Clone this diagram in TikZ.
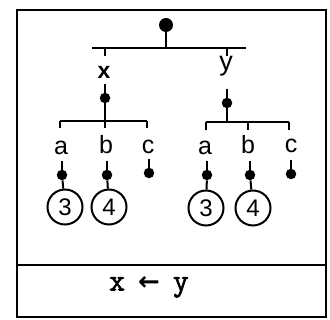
\documentclass[tikz,border=0pt]{standalone}
\usepackage{fontspec}
\setsansfont{Liberation Sans}
\newfontfamily\exprfont[FakeBold=2]{Latin Modern Mono}
\newfontfamily\arrfont{DejaVu Sans}
\begin{document}
\begin{tikzpicture}[x=1pt,y=-1pt,
  ln/.style={line width=2pt},
  dotn/.style={circle,fill=black,inner sep=0pt,minimum size=10.5pt},
  bigdot/.style={circle,fill=black,inner sep=0pt,minimum size=14pt},
  lbl/.style={font=\sffamily\fontsize{25}{25}\selectfont,inner sep=0pt},
  num/.style={circle,draw,line width=2pt,minimum size=35pt,inner sep=0pt,font=\sffamily\fontsize{24}{24}\selectfont}]
\useasboundingbox (0,0) rectangle (330,320);
% frame
\draw[line width=2pt] (17,10) rectangle (326,317);
\draw[line width=2pt] (17,265) -- (326,265);
\node[font=\exprfont\fontsize{31}{31}\selectfont,inner sep=0pt] (expr) at (149,287) {x\hskip13pt{\arrfont\bfseries\fontsize{26}{26}\selectfont ←}\hskip13pt y};
% root
\node[bigdot] (root) at (166,25) {};
\coordinate (rb) at (166,48);
\draw[ln] (root) -- (rb);
\draw[ln] (92,48) coordinate (rbl) -- (246,48) coordinate (rbr);
\coordinate (xd) at (105,48);
\coordinate (yd) at (227,48);
\node[lbl,font=\sffamily\bfseries\fontsize{23}{23}\selectfont] (x) at (104,72) {x};
\node[lbl,font=\sffamily\fontsize{27}{27}\selectfont] (y) at (226,66) {y};
\coordinate (xdt) at (105,56);
\coordinate (ydt) at (227,56);
\draw[ln] (xd) -- (xdt);
\draw[ln] (yd) -- (ydt);
% x subtree
\node[dotn] (xn) at (105,98) {};
\coordinate (xnt) at (105,84);
\draw[ln] (xnt) -- (xn);
\coordinate (xb) at (105,121);
\draw[ln] (xn) -- (xb);
\draw[ln] (60,121) coordinate (xbl) -- (147,121) coordinate (xbr);
\foreach \p in {60,105,147} \draw[ln] (\p,121) -- (\p,128);
% y subtree
\node[dotn] (yn) at (227,103) {};
\coordinate (ynt) at (227,89);
\draw[ln] (ynt) -- (yn);
\coordinate (yb) at (227,122);
\draw[ln] (yn) -- (yb);
\draw[ln] (206,122) coordinate (ybl) -- (289,122) coordinate (ybr);
\foreach \p in {206,248,289} \draw[ln] (\p,122) -- (\p,130);
% labels
\node[lbl] (la1) at (61,148) {a};
\node[lbl] (lb1) at (106,145) {b};
\node[lbl] (lc1) at (148,147) {c};
\node[lbl] (la2) at (205,148) {a};
\node[lbl] (lb2) at (248,145) {b};
\node[lbl] (lc2) at (291,146) {c};
% leaf dots
\foreach \n/\px/\py in {d1/62/175,d2/107/175,d3/149/173,d4/207/175,d5/250/175,d6/291/174}{
  \node[dotn] (\n) at (\px,\py) {};
  \coordinate (\n t) at (\px,\py-14);
  \draw[ln] (\n t) -- (\n);
}
% circled numbers
\node[num] (c1) at (65,207) {3};
\node[num] (c2) at (109,207) {4};
\node[num] (c3) at (206,208) {3};
\node[num] (c4) at (253,208) {4};
\draw[ln] (d1) -- (c1);
\draw[ln] (d2) -- (c2);
\draw[ln] (d4) -- (c3);
\draw[ln] (d5) -- (c4);
\end{tikzpicture}
\end{document}
